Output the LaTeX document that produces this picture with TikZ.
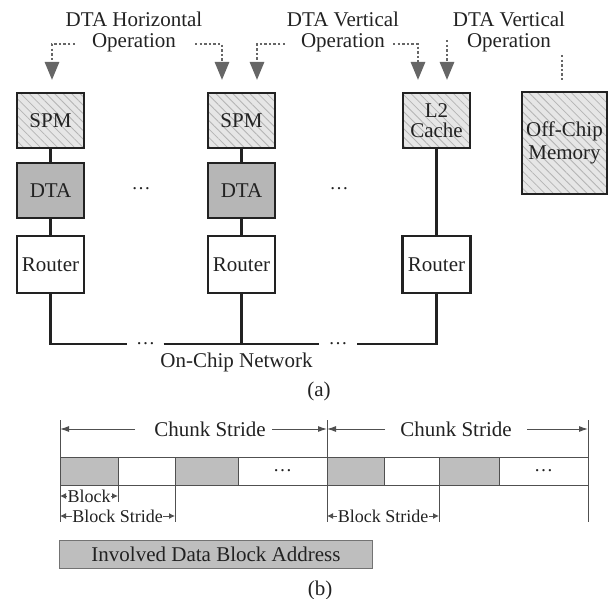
\documentclass[tikz,border=0pt]{standalone}
\usepackage{fontspec}
\setmainfont{Liberation Serif}
\usetikzlibrary{arrows.meta,patterns.meta}
\definecolor{ink}{HTML}{222222}
\definecolor{hatchbg}{HTML}{E6E6E6}
\definecolor{hatchln}{HTML}{B4B4B4}
\definecolor{dtagray}{HTML}{B6B6B6}
\definecolor{blockgray}{HTML}{BEBEBE}
\definecolor{opgray}{HTML}{666666}
\definecolor{rulegray}{HTML}{505050}
\begin{document}
\begin{tikzpicture}[x=1pt,y=-1pt,
  big/.style={font=\fontsize{21}{21}\selectfont, text=ink},
  small/.style={font=\fontsize{18}{18}\selectfont, text=ink},
  box/.style={big, draw=ink, line width=2.1pt, minimum width=67pt,
    minimum height=55pt, inner sep=0pt, outer sep=0pt, align=center},
  hatched/.style={box, preaction={fill=hatchbg},
    pattern={Lines[angle=-45,distance=6pt,line width=0.8pt]},
    pattern color=hatchln},
  dtabox/.style={box, fill=dtagray},
  routerbox/.style={box, fill=white, minimum height=57pt},
  link/.style={draw=ink, line width=2.1pt},
  oparrow/.style={draw=opgray, line width=2.8pt, line cap=butt,
    dash pattern=on 2.4pt off 2.2pt,
    -{Triangle[width=14pt,length=18pt,fill=opgray]}},
  opline/.style={draw=opgray, line width=2.8pt, line cap=butt,
    dash pattern=on 2.4pt off 2.2pt},
  ellip/.style={font=\fontsize{19}{19}\selectfont, text=ink, inner sep=0pt},
  cell/.style={draw=rulegray, line width=1pt, minimum height=28pt,
    inner sep=0pt, outer sep=0pt, anchor=west},
  graycell/.style={cell, fill=blockgray},
  whitecell/.style={cell, fill=white, ellip},
  thin/.style={draw=rulegray, line width=1pt},
  dim/.style={thin, -{Latex[length=9pt,width=6pt]}},
  dimboth/.style={thin, {Latex[length=6pt,width=6pt]}-{Latex[length=6pt,width=6pt]}},
]
\useasboundingbox (0,0) rectangle (608,599);

% ---------- (a) memory hierarchy ----------
% operation labels
\node[big, align=center] (hop) at (134,32) {DTA Horizontal\\Operation};
\node[big, align=center] (vop1) at (343,32) {DTA Vertical\\Operation};
\node[big, align=center] (vop2) at (509,32) {DTA Vertical\\Operation};

% columns of blocks
\node[hatched] (spm1) at (50.5,120.5) {SPM};
\node[dtabox]  (dta1) at (50.5,190.5) {DTA};
\node[routerbox] (rt1) at (50.5,264.5) {Router};

\node[hatched] (spm2) at (241.5,120.5) {SPM};
\node[dtabox]  (dta2) at (241.5,190.5) {DTA};
\node[routerbox] (rt2) at (241.5,264.5) {Router};

\node[hatched, font=\fontsize{21}{19.5}\selectfont] (l2) at (436.5,120.5) {L2\\Cache};
\node[routerbox, minimum width=68pt] (rt3) at (436.5,264.5) {Router};

\node[hatched, minimum width=85pt, minimum height=102pt,
      font=\fontsize{21}{23}\selectfont] (mem) at (564.5,143) {Off-Chip\\Memory};

\node[ellip] (gap1) at (141,189) {…};
\node[ellip] (gap2) at (339,189) {…};

% vertical links inside each column
\draw[link] (spm1) -- (dta1);
\draw[link] (dta1) -- (rt1);
\draw[link] (spm2) -- (dta2);
\draw[link] (dta2) -- (rt2);
\draw[link] (l2) -- (rt3);

% on-chip network
\coordinate (netrow) at (0,344);
\node[ellip, inner xsep=8.5pt] (nd1) at (145.5,344) {…};
\node[ellip, inner xsep=9.5pt] (nd2) at (338,344) {…};
\draw[link] (rt1.south) |- (nd1.west);
\draw[link] (nd1.east) -- (nd2.west);
\draw[link] (nd2.east) -| (rt3.south);
\draw[link] (rt2.south) -- (rt2.south |- netrow);
\node[big] (net) at (236.5,362) {On-Chip Network};
\node[big] (capa) at (319,391) {(a)};

% DTA operation arrows
\coordinate (h1s) at (75,44);  \coordinate (h1c) at (52,44);  \coordinate (h1t) at (52,80);
\coordinate (h2s) at (195,44); \coordinate (h2c) at (222,44); \coordinate (h2t) at (222,80);
\coordinate (v1s) at (285,44); \coordinate (v1c) at (257,44); \coordinate (v1t) at (257,80);
\coordinate (v2s) at (393,44); \coordinate (v2c) at (418,44); \coordinate (v2t) at (418,80);
\coordinate (v3s) at (447,40); \coordinate (v3t) at (447,80);
\coordinate (m1s) at (562,55); \coordinate (m1t) at (562,81);
\draw[oparrow] (h1s) -- (h1c) -- (h1t);
\draw[oparrow] (h2s) -- (h2c) -- (h2t);
\draw[oparrow] (v1s) -- (v1c) -- (v1t);
\draw[oparrow] (v2s) -- (v2c) -- (v2t);
\draw[oparrow] (v3s) -- (v3t);
\draw[opline]  (m1s) -- (m1t);

% ---------- (b) address layout ----------
\node[graycell, minimum width=58pt] (b1) at (60,471) {};
\node[whitecell, minimum width=57pt] (w1) at (118,471) {};
\node[graycell, minimum width=63pt] (b2) at (175,471) {};
\node[whitecell, minimum width=89pt] (w2) at (238,471) {…};
\node[graycell, minimum width=57pt] (b3) at (327,471) {};
\node[whitecell, minimum width=55pt] (w3) at (384,471) {};
\node[graycell, minimum width=60pt] (b4) at (439,471) {};
\node[whitecell, minimum width=89pt] (w4) at (499,471) {…};

% extension lines
\coordinate (e0t) at (60,420);  \coordinate (e0b) at (60,522);
\coordinate (e1t) at (327,420); \coordinate (e1b) at (327,522);
\coordinate (e2t) at (588,420); \coordinate (e2b) at (588,522);
\coordinate (e3b) at (118,502);
\coordinate (e4b) at (175,522);
\coordinate (e5b) at (439,522);
\draw[thin] (e0t) -- (e0b);
\draw[thin] (e1t) -- (e1b);
\draw[thin] (e2t) -- (e2b);
\draw[thin] (b1.south east) -- (e3b);
\draw[thin] (b2.south west) -- (e4b);
\draw[thin] (b4.south west) -- (e5b);

% chunk strides
\node[big] (cs1) at (210,429) {Chunk Stride};
\node[big] (cs2) at (456,429) {Chunk Stride};
\coordinate (cs1l) at (135,429); \coordinate (cs1r) at (272,429);
\coordinate (cs2l) at (385,429); \coordinate (cs2r) at (527,429);
\draw[dim] (cs1l) -- (e0t |- cs1);
\draw[dim] (cs1r) -- (e1t |- cs1);
\draw[dim] (cs2l) -- (e1t |- cs2);
\draw[dim] (cs2r) -- (e2t |- cs2);

% block and block strides
\coordinate (blk) at (0,496);
\coordinate (bst) at (0,516);
\draw[dimboth] (e0t |- blk) -- (e3b |- blk);
\node[small, fill=white, inner xsep=0.5pt, inner ysep=0pt] (blab) at (89,496) {Block};
\draw[dimboth] (e0t |- bst) -- (e4b |- bst);
\node[small, fill=white, inner xsep=0.5pt, inner ysep=0pt] (bs1) at (117.5,516) {Block Stride};
\draw[dimboth] (e1t |- bst) -- (e5b |- bst);
\node[small, fill=white, inner xsep=0.5pt, inner ysep=0pt] (bs2) at (383,516) {Block Stride};

% legend
\node[big, draw=rulegray!80, line width=1pt, fill=blockgray,
      minimum width=313pt, minimum height=28pt, inner sep=0pt] (legend) at (216,554)
      {Involved Data Block Address};
\node[big] (capb) at (320,590) {(b)};
\end{tikzpicture}
\end{document}
